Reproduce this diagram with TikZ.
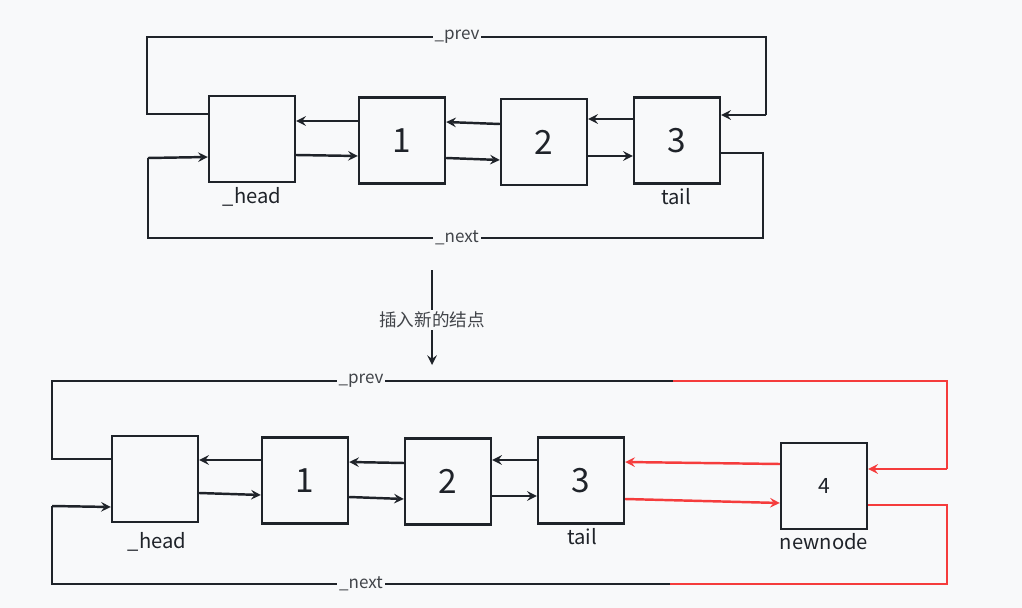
\documentclass[tikz,border=0pt]{standalone}
\usepackage{fontspec}
\newfontfamily\cjk{Noto Sans CJK SC}
\definecolor{bg}{RGB}{248,249,250}
\definecolor{ink}{RGB}{31,35,41}
\definecolor{redln}{RGB}{245,60,60}
\begin{document}
\begin{tikzpicture}[x=0.02cm, y=-0.02cm,
    box/.style={draw=ink, line width=1.4pt, minimum size=1.72cm, inner sep=0pt, font=\cjk\fontsize{19}{19}\selectfont, text=ink},
    boxname/.style={font=\cjk\fontsize{11.5}{11.5}\selectfont, text=ink},
    lbl/.style={fill=bg, inner sep=1pt, font=\cjk\fontsize{9.7}{9.7}\selectfont, text=ink!85},
    link/.style={draw=ink, line width=1.4pt},
    newlink/.style={draw=redln, line width=1.4pt}]
    \fill[bg] (0,0) rectangle (1022,608);
    % before insertion
    \node[box] (h) at (252,139) {};
    \node[box] (a1) at (402,140.5) {1};
    \node[box] (a2) at (544,142) {2};
    \node[box] (a3) at (677,140.5) {3};
    \node[boxname] (hl) at (252,197) {\_head};
    \node[boxname] (tl) at (676,197) {tail};
    \draw[link,-stealth] (a1.west |- 0,121) -- (h.east |- 0,121);
    \draw[link,-stealth] (h.east |- 0,155) -- (a1.west |- 0,156);
    \draw[link,-stealth] (a2.west |- 0,124) -- (a1.east |- 0,122);
    \draw[link,-stealth] (a1.east |- 0,158) -- (a2.west |- 0,160);
    \draw[link,-stealth] (a3.west |- 0,119) -- (a2.east |- 0,119);
    \draw[link,-stealth] (a2.east |- 0,156) -- (a3.west |- 0,156);
    \draw[link] (h.west |- 0,114) -- (147,114) -- (147,37) -- (766,37) -- (766,115);
    \draw[link,-stealth] (766,115) -- (a3.east |- 0,115);
    \draw[link] (a3.east |- 0,153) -- (763,153) -- (763,238) -- (148,238) -- (148,158);
    \draw[link,-stealth] (148,158) -- (h.west |- 0,157);
    \node[lbl] (pv) at (457,37) {\_prev};
    \node[lbl] (nx) at (457,238) {\_next};
    % step
    \node[lbl, font=\cjk\fontsize{10}{10}\selectfont] (st) at (432,320) {插入新的结点};
    \coordinate (s0) at (432,270);
    \coordinate (s1) at (432,365);
    \draw[link] (s0) -- (st.north);
    \draw[link,-stealth] (st.south) -- (s1);
    % after insertion
    \node[box] (b0) at (155,479) {};
    \node[box] (b1) at (305,480.5) {1};
    \node[box] (b2) at (448,481.5) {2};
    \node[box] (b3) at (581,480.5) {3};
    \node[box, font=\cjk\fontsize{12}{12}\selectfont] (b4) at (824,486) {4};
    \node[boxname] (bhl) at (157,542) {\_head};
    \node[boxname] (btl) at (582,537) {tail};
    \node[boxname] (bnl) at (824,542) {newnode};
    \draw[link,-stealth] (b1.west |- 0,460) -- (b0.east |- 0,460);
    \draw[link,-stealth] (b0.east |- 0,493) -- (b1.west |- 0,495);
    \draw[link,-stealth] (b2.west |- 0,463) -- (b1.east |- 0,462);
    \draw[link,-stealth] (b1.east |- 0,497) -- (b2.west |- 0,499);
    \draw[link,-stealth] (b3.west |- 0,460) -- (b2.east |- 0,460);
    \draw[link,-stealth] (b2.east |- 0,496) -- (b3.west |- 0,496);
    \draw[newlink,-stealth] (b4.west |- 0,464) -- (b3.east |- 0,462);
    \draw[newlink,-stealth] (b3.east |- 0,499) -- (b4.west |- 0,503);
    \coordinate (pr) at (673,381);
    \coordinate (nr) at (670,584);
    \draw[link] (b0.west |- 0,459) -- (52,459) -- (52,381) -- (pr);
    \draw[newlink] (pr) -- (947,381) -- (947,469);
    \draw[newlink,-stealth] (947,469) -- (b4.east |- 0,469);
    \draw[newlink] (b4.east |- 0,505) -- (947,505) -- (947,584) -- (nr);
    \draw[link] (nr) -- (52,584) -- (52,506);
    \draw[link,-stealth] (52,506) -- (b0.west |- 0,507);
    \node[lbl] (bpv) at (361,381) {\_prev};
    \node[lbl] (bnx) at (361,584) {\_next};
\end{tikzpicture}
\end{document}
